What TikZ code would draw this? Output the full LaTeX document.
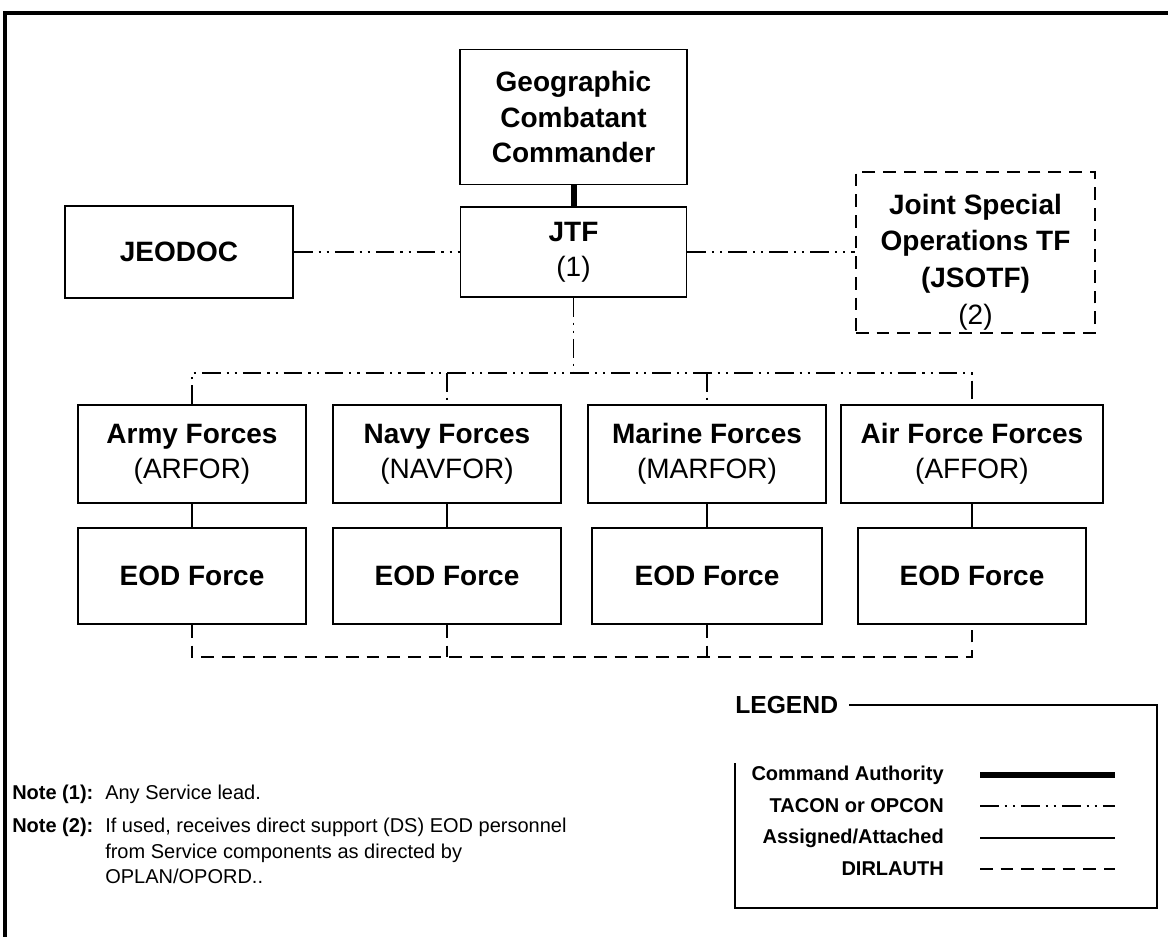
\documentclass[tikz,border=0pt]{standalone}
\usepackage{fontspec}
\setmainfont{Liberation Sans}
\begin{document}
\begin{tikzpicture}[x=0.75pt,y=-0.75pt,
  box/.style={draw,line width=1.4pt,align=center,inner sep=0pt,
    font=\fontsize{21}{26.5}\selectfont},
  dbox/.style={draw,line width=1.4pt,dash pattern=on 9.5pt off 6pt},
  boxtext/.style={align=center,inner sep=0pt,font=\fontsize{21}{27.5}\selectfont},
  cmd/.style={line width=4.5pt},
  tacon/.style={line width=1.4pt,dash pattern=on 14pt off 4.5pt on 1.6pt off 4.5pt on 1.6pt off 4.5pt},
  assign/.style={line width=1.4pt},
  dirl/.style={line width=1.4pt,dash pattern=on 9.5pt off 6pt},
  legtext/.style={font=\bfseries\fontsize{15}{18}\selectfont,anchor=east,inner sep=0pt},
  notehead/.style={font=\bfseries\fontsize{15}{19}\selectfont,anchor=north west,inner sep=0pt},
  notebody/.style={font=\fontsize{15}{19}\selectfont,anchor=north west,inner sep=0pt,align=left}]
\useasboundingbox (0,0) rectangle (1168,936);

% outer frame
\draw[line width=3pt] (5,945) -- (5,13) -- (1175,13);

% top of the chain
\node[box,minimum width=227*0.75pt,minimum height=135*0.75pt] (gcc) at (573.5,117)
  {\bfseries Geographic\\\bfseries Combatant\\\bfseries Commander};
\node[box,minimum width=226*0.75pt,minimum height=90*0.75pt] (jtf) at (573.5,252)
  {\bfseries JTF\\(1)};
\node[box,minimum width=228*0.75pt,minimum height=92*0.75pt] (jeodoc) at (179,252)
  {\bfseries JEODOC};
\node[dbox,minimum width=239*0.75pt,minimum height=161*0.75pt] (jsotf) at (975.5,252.5) {};
\node[boxtext] (jsotftext) at (975.5,262)
  {\bfseries Joint Special\\\bfseries Operations TF\\\bfseries (JSOTF)\\(2)};

% service components
\node[box,minimum width=228*0.75pt,minimum height=98*0.75pt] (army) at (192,454)
  {\bfseries Army Forces\\(ARFOR)};
\node[box,minimum width=228*0.75pt,minimum height=98*0.75pt] (navy) at (447,454)
  {\bfseries Navy Forces\\(NAVFOR)};
\node[box,minimum width=238*0.75pt,minimum height=98*0.75pt] (marine) at (707,454)
  {\bfseries Marine Forces\\(MARFOR)};
\node[box,minimum width=262*0.75pt,minimum height=98*0.75pt] (affor) at (972,454)
  {\bfseries Air Force Forces\\(AFFOR)};

% EOD forces
\node[box,minimum width=228*0.75pt,minimum height=96*0.75pt] (eodA) at (192,576) {\bfseries EOD Force};
\node[box,minimum width=228*0.75pt,minimum height=96*0.75pt] (eodB) at (447,576) {\bfseries EOD Force};
\node[box,minimum width=230*0.75pt,minimum height=96*0.75pt] (eodC) at (707,576) {\bfseries EOD Force};
\node[box,minimum width=228*0.75pt,minimum height=96*0.75pt] (eodD) at (972,576) {\bfseries EOD Force};

% connectors
\coordinate (bus) at (0,373);
\coordinate (lowbus) at (0,657);
\draw[cmd] (gcc.south) -- (gcc.south |- jtf.north);
\draw[tacon] (jeodoc.east) -- (jtf.west);
\draw[tacon] (jtf.east) -- (jtf.east -| jsotf.west);
\draw[tacon] (jtf.south) -- (jtf.south |- bus);
\draw[tacon] (army.north) |- (bus -| affor.north) -- (affor.north);
\draw[tacon] (navy.north |- bus) -- (navy.north);
\draw[tacon] (marine.north |- bus) -- (marine.north);
\draw[assign] (army.south) -- (eodA.north);
\draw[assign] (navy.south) -- (eodB.north);
\draw[assign] (marine.south) -- (eodC.north);
\draw[assign] (affor.south) -- (eodD.north);
\draw[dirl] (eodA.south) |- (lowbus -| eodD.south) -- (eodD.south);
\draw[dirl] (eodB.south) -- (eodB.south |- lowbus);
\draw[dirl] (eodC.south) -- (eodC.south |- lowbus);

% notes
\node[notehead] (n1h) at (12,785) {Note (1):};
\node[notebody] (n1b) at (105,785) {Any Service lead.};
\node[notehead] (n2h) at (12,818) {Note (2):};
\node[notebody] (n2b) at (105,818) {If used, receives direct support (DS) EOD personnel\\from Service components as directed by\\OPLAN/OPORD..};

% legend
\node[font=\bfseries\fontsize{18.5}{22}\selectfont,anchor=west,inner sep=0pt] (legtitle) at (735,705) {LEGEND};
\coordinate (legTR) at (1157,705);
\coordinate (legBL) at (735,908);
\coordinate (legTL) at (735,763);
\draw[line width=1.4pt] ([xshift=11*0.75pt]legtitle.east) -- (legTR) |- (legBL) -- (legTL);
\node[legtext] (l1) at (944,775) {Command Authority};
\node[legtext] (l2) at (944,806) {TACON or OPCON};
\node[legtext] (l3) at (944,838) {Assigned/Attached};
\node[legtext] (l4) at (944,869) {DIRLAUTH};
\coordinate (s1) at (980,775); \coordinate (e1) at (1115,775);
\coordinate (s2) at (980,806); \coordinate (e2) at (1115,806);
\coordinate (s3) at (980,838); \coordinate (e3) at (1115,838);
\coordinate (s4) at (980,869); \coordinate (e4) at (1115,869);
\draw[cmd] (s1) -- (e1);
\draw[tacon] (s2) -- (e2);
\draw[assign] (s3) -- (e3);
\draw[dirl] (s4) -- (e4);
\end{tikzpicture}
\end{document}
